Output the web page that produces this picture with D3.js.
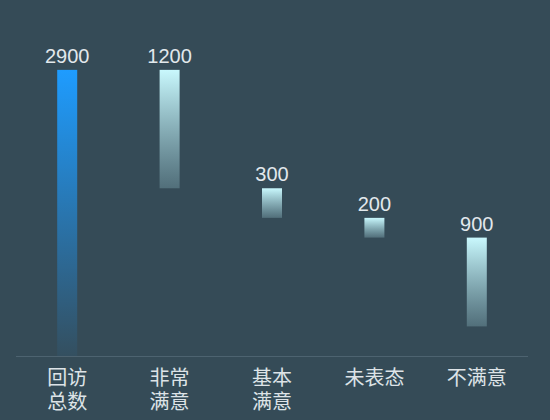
<!DOCTYPE html>
<html>
<head>
<meta charset="utf-8">
<script src="https://cdn.jsdelivr.net/npm/d3@7"></script>
<style>
  html, body { margin: 0; padding: 0; background: #354b57; }
  text { font-family: "Helvetica Neue", Arial, "Noto Sans CJK SC", sans-serif; }
</style>
</head>
<body>
<div id="chart"></div>
<script>
// categories and values
var categories = ["回访\n总数", "非常\n满意", "基本\n满意", "未表态", "不满意"];
var values = [2900, 1200, 300, 200, 900];

var W = 550, H = 420;
var margin = {top: 60, right: 22, bottom: 64, left: 16};

// waterfall: first bar is the total, the rest hang down from it
var bars = [];
var run = values[0];
bars.push({cat: categories[0], v: values[0], y0: 0, y1: values[0], total: true});
for (var i = 1; i < values.length; i++) {
  bars.push({cat: categories[i], v: values[i], y0: run - values[i], y1: run, total: false});
  run -= values[i];
}

var svg = d3.select("#chart").append("svg")
  .attr("width", W)
  .attr("height", H)
  .style("background", "#354b57");

var defs = svg.append("defs");
var gTotal = defs.append("linearGradient").attr("id", "gradTotal")
  .attr("x1", 0).attr("y1", 0).attr("x2", 0).attr("y2", 1);
gTotal.append("stop").attr("offset", "0%").attr("stop-color", "#1e9cff").attr("stop-opacity", 1);
gTotal.append("stop").attr("offset", "100%").attr("stop-color", "#1e9cff").attr("stop-opacity", 0.05);

var gPart = defs.append("linearGradient").attr("id", "gradPart")
  .attr("x1", 0).attr("y1", 0).attr("x2", 0).attr("y2", 1);
gPart.append("stop").attr("offset", "0%").attr("stop-color", "#c9f8fd").attr("stop-opacity", 1);
gPart.append("stop").attr("offset", "100%").attr("stop-color", "#a8dbe4").attr("stop-opacity", 0.25);

var x = d3.scaleBand()
  .domain(categories)
  .range([margin.left, W - margin.right])
  .padding(0);

var y = d3.scaleLinear()
  .domain([0, 3000])
  .range([H - margin.bottom, margin.top]);

var barW = 20;

// axis line
svg.append("line")
  .attr("x1", margin.left).attr("x2", W - margin.right)
  .attr("y1", y(0) + 0.5).attr("y2", y(0) + 0.5)
  .style("stroke", "#4d6370")
  .style("stroke-width", 1);

// bars
svg.selectAll(".bar")
  .data(bars)
  .join("rect")
  .attr("class", "bar")
  .attr("x", function(d) { return x(d.cat) + x.bandwidth() / 2 - barW / 2; })
  .attr("y", function(d) { return y(d.y1); })
  .attr("width", barW)
  .attr("height", function(d) { return y(d.y0) - y(d.y1); })
  .style("fill", function(d) { return d.total ? "url(#gradTotal)" : "url(#gradPart)"; });

// value labels
svg.selectAll(".val")
  .data(bars)
  .join("text")
  .attr("class", "val")
  .attr("x", function(d) { return x(d.cat) + x.bandwidth() / 2; })
  .attr("y", function(d) { return y(d.y1) - 7; })
  .attr("text-anchor", "middle")
  .style("font-size", "20px")
  .style("fill", "#e2e8ec")
  .text(function(d) { return d.v; });

// category labels, split on newline
var cat = svg.selectAll(".cat")
  .data(categories)
  .join("text")
  .attr("class", "cat")
  .attr("text-anchor", "middle")
  .attr("x", function(d) { return x(d) + x.bandwidth() / 2; })
  .attr("y", y(0) + 29)
  .style("font-size", "20px")
  .style("font-family", "'Noto Sans CJK SC', sans-serif")
  .style("fill", "#dde3e7");

cat.each(function(d) {
  var t = d3.select(this);
  d.split("\n").forEach(function(line, j) {
    t.append("tspan")
      .attr("x", t.attr("x"))
      .attr("dy", j === 0 ? 0 : 23.5)
      .text(line);
  });
});
</script>
</body>
</html>
